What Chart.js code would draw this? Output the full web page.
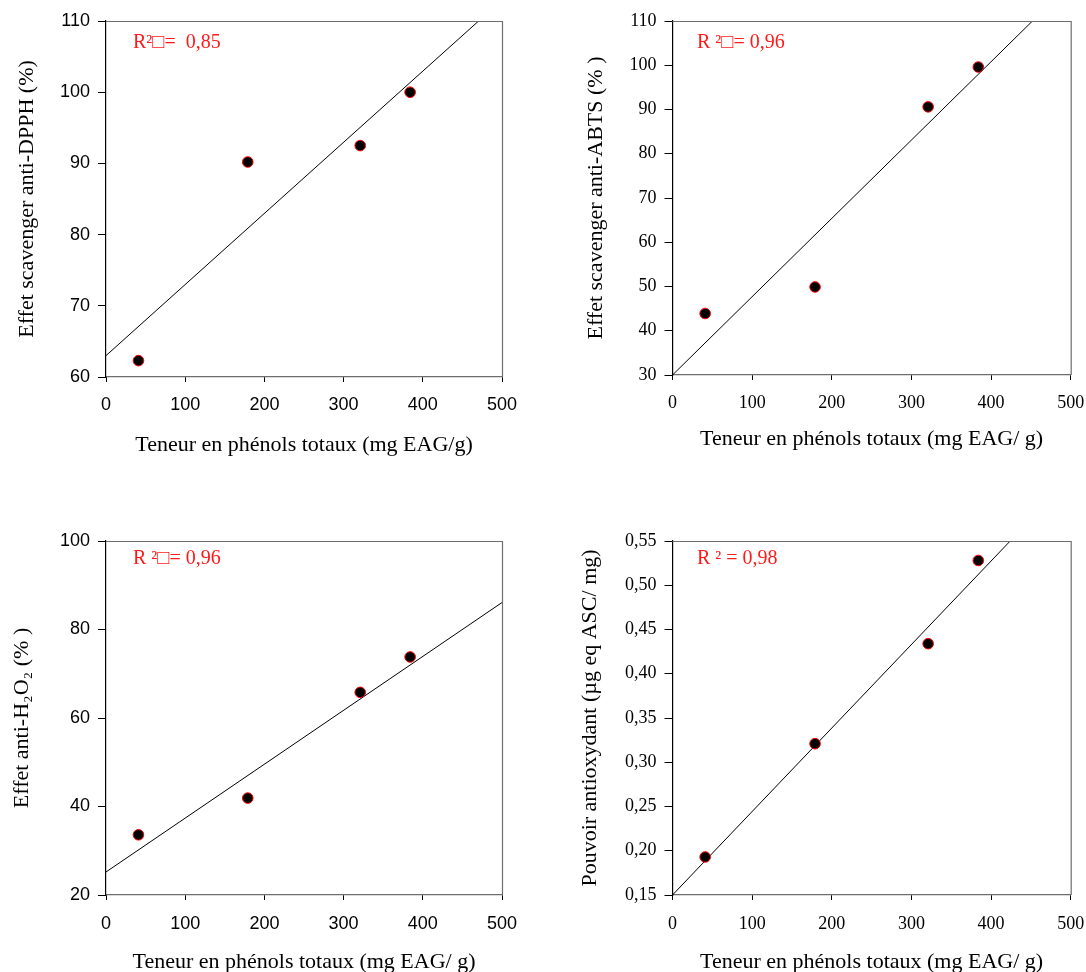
<!DOCTYPE html>
<html>
<head>
<meta charset="utf-8">
<script src="https://cdn.jsdelivr.net/npm/chart.js@4.4.1/dist/chart.umd.min.js"></script>
<style>
  html, body { margin: 0; padding: 0; background: #ffffff; overflow: hidden; }
  #wrap { position: relative; width: 1086px; height: 972px; overflow: hidden; background: #fff; }
  .panel { position: absolute; }
</style>
</head>
<body>
<div id="wrap">
  <div class="panel" id="p1"><canvas id="c1"></canvas></div>
  <div class="panel" id="p2"><canvas id="c2"></canvas></div>
  <div class="panel" id="p3"><canvas id="c3"></canvas></div>
  <div class="panel" id="p4"><canvas id="c4"></canvas></div>
</div>
<script>
// ---- data ----
const phenolX = [41, 179, 321, 384];                 // Teneur en phénols totaux (mg EAG/g)
const dpphValues = [62.3, 90.2, 92.5, 100.0];        // Effet scavenger anti-DPPH (%)
const abtsValues = [43.9, 49.9, 90.6, 99.6];         // Effet scavenger anti-ABTS (%)
const h2o2Values = [33.6, 41.9, 65.8, 73.8];         // Effet anti-H2O2 (%)
const pouvoirValues = [0.193, 0.321, 0.434, 0.528];  // Pouvoir antioxydant (µg eq ASC/ mg)

// regression line end points (as drawn)
const dpphLineX = [0, 470.5];   const dpphLineY = [63.0, 110];
const abtsLineX = [0, 452];     const abtsLineY = [30, 110];
const h2o2LineX = [0, 500];     const h2o2LineY = [25.2, 86.1];
const pouvoirLineX = [0, 424];  const pouvoirLineY = [0.15, 0.55];

const r2Labels = ['R\u00B2\u25A1=  0,85', 'R \u00B2\u25A1= 0,96', 'R \u00B2\u25A1= 0,96', 'R \u00B2 = 0,98'];

const xTitles = ['Teneur en phénols totaux (mg EAG/g)', 'Teneur en phénols totaux (mg EAG/ g)',
                 'Teneur en phénols totaux (mg EAG/ g)', 'Teneur en phénols totaux (mg EAG/ g)'];
const yTitles = ['Effet scavenger anti-DPPH (%)', 'Effet scavenger anti-ABTS (% )',
                 'Effet anti-H\u2082O\u2082 (% )', 'Pouvoir antioxydant (µg eq ASC/ mg)'];

const xTickMin = 0, xTickMax = 500, xTickStep = 100;
const yRanges = [[60, 110, 10], [30, 110, 10], [20, 100, 20], [0.15, 0.55, 0.05]];

const SERIF = '"Liberation Serif", "Times New Roman", serif';
const SANS = '"Liberation Sans", Arial, sans-serif';

// ---- layout of the four panels ----
const panels = [
  { id: 'c1', box: [0, 0, 540, 460],   area: [106, 21, 502, 377], tickFont: SANS,  yTitleX: 27,  xTitleY: 445, xTickPad: 12,
    xs: phenolX, ys: dpphValues, lx: dpphLineX, ly: dpphLineY, textPos: [133, 48], decimals: 0 },
  { id: 'c2', box: [560, 0, 540, 460], area: [672.5, 21, 1070.7, 375], tickFont: SERIF, yTitleX: 596, xTitleY: 439, xTickPad: 12,
    xs: phenolX, ys: abtsValues, lx: abtsLineX, ly: abtsLineY, textPos: [697, 48], decimals: 0 },
  { id: 'c3', box: [0, 480, 540, 492], area: [106, 541, 502, 895], tickFont: SANS,  yTitleX: 22,  xTitleY: 962, xTickPad: 13,
    xs: phenolX, ys: h2o2Values, lx: h2o2LineX, ly: h2o2LineY, textPos: [133, 564], decimals: 0 },
  { id: 'c4', box: [560, 480, 540, 492], area: [672.5, 541, 1070.7, 895], tickFont: SERIF, yTitleX: 590, xTitleY: 962, xTickPad: 13,
    xs: phenolX, ys: pouvoirValues, lx: pouvoirLineX, ly: pouvoirLineY, textPos: [697, 564], decimals: 2 }
];

const TITLE_SIZE = 22;
const TICK_SIZE = 18;
const TITLE_LH = TITLE_SIZE * 1.2;

panels.forEach((p, i) => {
  const [bx, by, bw, bh] = p.box;
  const [al, at, ar, ab] = p.area;
  const div = document.getElementById('p' + (i + 1));
  div.style.left = bx + 'px'; div.style.top = by + 'px';
  div.style.width = bw + 'px'; div.style.height = bh + 'px';

  const yWidth = al - bx;
  const xHeight = (by + bh) - ab;
  const padTop = at - by;
  const padRight = (bx + bw) - ar;
  const yTitlePad = (p.yTitleX - bx) - TITLE_LH / 2;
  const xTitlePad = (by + bh) - p.xTitleY - TITLE_LH / 2;
  const [ymin, ymax, ystep] = yRanges[i];

  const framePlugin = {
    id: 'frame' + i,
    afterDatasetsDraw(chart) {
      const { ctx, chartArea: a } = chart;
      ctx.save();
      ctx.strokeStyle = '#6e6e6e';
      ctx.lineWidth = 1.2;
      ctx.beginPath();
      ctx.moveTo(a.left, a.top + 0.5);
      ctx.lineTo(a.right + 0.5, a.top + 0.5);
      ctx.lineTo(a.right + 0.5, a.bottom);
      ctx.stroke();
      ctx.font = '20px ' + SERIF;
      ctx.fillStyle = '#ff1a1a';
      ctx.textBaseline = 'alphabetic';
      ctx.textAlign = 'left';
      ctx.fillText(r2Labels[i], p.textPos[0] - bx, p.textPos[1] - by);
      ctx.restore();
    }
  };

  new Chart(document.getElementById(p.id), {
    type: 'scatter',
    data: {
      datasets: [
        {
          type: 'line',
          data: p.lx.map((x, k) => ({ x: x, y: p.ly[k] })),
          borderColor: '#000',
          borderWidth: 1,
          pointRadius: 0,
          fill: false,
          order: 2
        },
        {
          data: p.xs.map((x, k) => ({ x: x, y: p.ys[k] })),
          backgroundColor: '#000',
          borderColor: '#ff0000',
          borderWidth: 1,
          pointRadius: 5.3,
          order: 1
        }
      ]
    },
    options: {
      responsive: true,
      maintainAspectRatio: false,
      animation: false,
      events: [],
      layout: { padding: { top: padTop, right: padRight, left: 0, bottom: 0 } },
      plugins: { legend: { display: false }, tooltip: { enabled: false } },
      scales: {
        x: {
          type: 'linear',
          min: xTickMin, max: xTickMax,
          afterFit(scale) { scale.height = xHeight; },
          ticks: { stepSize: xTickStep, color: '#000', font: { family: p.tickFont, size: TICK_SIZE }, padding: p.xTickPad, maxRotation: 0 },
          grid: { drawOnChartArea: false, drawTicks: true, tickLength: 5, color: '#000', lineWidth: 1 },
          border: { display: true, color: '#6e6e6e', width: 1.2 },
          title: { display: true, text: xTitles[i], color: '#000',
                   font: { family: SERIF, size: TITLE_SIZE, lineHeight: 1.2 },
                   padding: { top: 0, bottom: xTitlePad } }
        },
        y: {
          type: 'linear',
          min: ymin, max: ymax,
          afterFit(scale) { scale.width = yWidth; },
          ticks: {
            stepSize: ystep, color: '#000', font: { family: p.tickFont, size: TICK_SIZE }, padding: 8,
            callback: (v) => p.decimals ? v.toFixed(p.decimals).replace('.', ',') : String(Math.round(v))
          },
          grid: { drawOnChartArea: false, drawTicks: true, tickLength: 8, color: '#000', lineWidth: 1 },
          border: { display: true, color: '#000', width: 1.2 },
          title: { display: true, text: yTitles[i], color: '#000',
                   font: { family: SERIF, size: TITLE_SIZE, lineHeight: 1.2 },
                   padding: { top: yTitlePad, bottom: 0 } }
        }
      }
    },
    plugins: [framePlugin]
  });
});
</script>
</body>
</html>
